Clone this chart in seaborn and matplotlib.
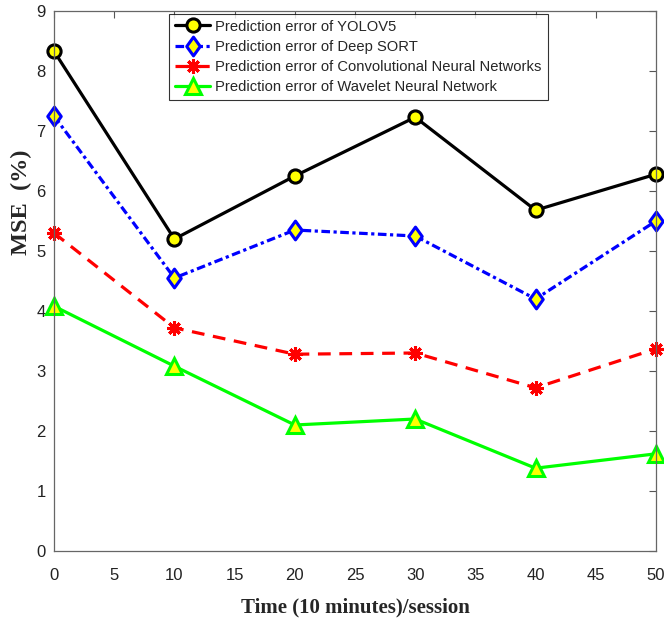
import matplotlib
matplotlib.use("Agg")
import matplotlib.pyplot as plt
from matplotlib.path import Path
import seaborn as sns
import pandas as pd

time = [0, 10, 20, 30, 40, 50]
yolov5 = [8.33, 5.20, 6.25, 7.23, 5.68, 6.28]
deep_sort = [7.25, 4.55, 5.35, 5.25, 4.20, 5.50]
cnn = [5.30, 3.72, 3.28, 3.30, 2.72, 3.37]
wavelet = [4.08, 3.08, 2.10, 2.20, 1.38, 1.62]

labels = ["Prediction error of YOLOV5",
          "Prediction error of Deep SORT",
          "Prediction error of Convolutional Neural Networks",
          "Prediction error of Wavelet Neural Network"]

sns.set_style("white")
plt.rcParams['font.family'] = ['Liberation Sans', 'DejaVu Sans']

diamond = Path([(0, 1), (0.72, 0), (0, -1), (-0.72, 0), (0, 1)],
               [Path.MOVETO, Path.LINETO, Path.LINETO, Path.LINETO, Path.CLOSEPOLY])

fig = plt.figure(figsize=(6.64, 6.21), dpi=100)
ax = fig.add_axes([54 / 664, 70 / 621, 602 / 664, 540 / 621])

styles = [
    dict(color="black", marker="o", markerfacecolor="yellow", markeredgecolor="black",
         linestyle="-", markersize=9.5),
    dict(color="blue", marker=diamond, markerfacecolor="yellow", markeredgecolor="blue",
         linestyle=(0, (2.7, 1.1, 1.0, 1.1)), markersize=13.5),
    dict(color="red", marker=(8, 2, 0), markerfacecolor="red", markeredgecolor="red",
         linestyle=(0, (4, 2.7)), markersize=10.5),
    dict(color="#00ff00", marker="^", markerfacecolor="yellow", markeredgecolor="#00ff00",
         linestyle="-", markersize=11),
]
series = [yolov5, deep_sort, cnn, wavelet]
for vals, lab, st in zip(series, labels, styles):
    df = pd.DataFrame({"t": time, "v": vals})
    kw = dict(markeredgewidth=2.2)
    kw.update(st)
    sns.lineplot(data=df, x="t", y="v", ax=ax, label=lab, linewidth=2.3, clip_on=False, **kw)

ax.set_xlim(0, 50)
ax.set_ylim(0, 9)
ax.set_xticks(range(0, 51, 5))
ax.set_yticks(range(0, 10))
ax.tick_params(direction="in", top=True, right=True, labelsize=12, length=5, width=0.8,
               color="#555555", labelcolor="#222222")
ax.tick_params(axis="y", pad=6)
ax.tick_params(axis="x", pad=12)
for s in ax.spines.values():
    s.set_color("#666666")
    s.set_linewidth(0.9)

ax.set_xlabel("Time (10 minutes)/session", fontfamily="Liberation Serif", fontweight="bold",
              fontsize=15, va="top")
ax.xaxis.set_label_coords(0.5, -0.087)
ax.set_ylabel("MSE  (%)", fontfamily="Liberation Serif", fontweight="bold", fontsize=17.5)
ax.yaxis.set_label_coords(-0.037, 0.646)

leg = ax.legend(loc="upper left", bbox_to_anchor=(0.191, 0.995), fontsize=10.6, frameon=True,
                fancybox=False, edgecolor="black", handlelength=2.4, labelspacing=0.42,
                borderpad=0.4, handletextpad=0.35, borderaxespad=0.0)
leg.get_frame().set_linewidth(0.8)

fig.savefig("out.png", dpi=100)
